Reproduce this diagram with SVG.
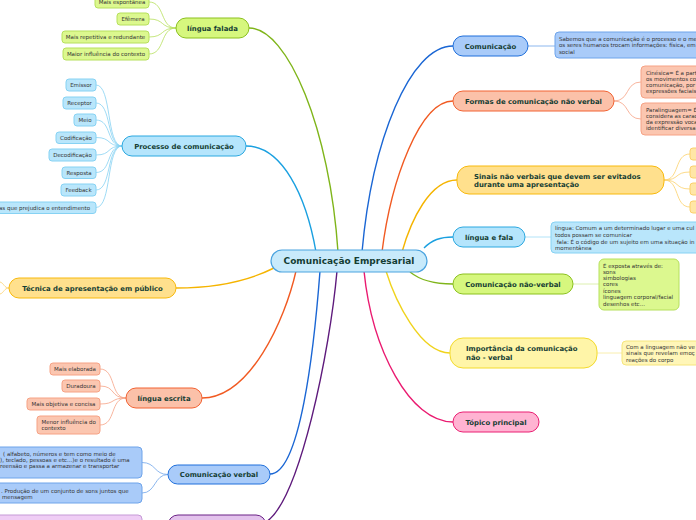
<svg xmlns="http://www.w3.org/2000/svg" width="696" height="520" viewBox="0 0 696 520">
<style>
text{font-family:"DejaVu Sans",Verdana,sans-serif}
.lbl{font-size:6.9px;font-weight:bold;fill:#143d33}
.main{font-size:9px;font-weight:bold;fill:#143d33}
.lf{font-size:5.5px;fill:#333}
.c{text-anchor:middle}
.br{fill:none;stroke-width:1.4}
.lc{fill:none;stroke-width:0.8}
.green{fill:#d6f77e;stroke:#8cc11f}
.greenL{fill:#dcf88f;stroke:#b6e05c}
.cyan{fill:#b5e5fc;stroke:#2aa8e0}
.cyanL{fill:#b9e6fb;stroke:#86d2f3}
.orng{fill:#ffe08d;stroke:#f8b90c}
.orngL{fill:#ffe6a6;stroke:#fbd06a}
.salm{fill:#fbc1a9;stroke:#f26232}
.salmL{fill:#fbc6b0;stroke:#f6a285}
.blue{fill:#a9cbf9;stroke:#1f6fdb}
.blueL{fill:#a9cbf9;stroke:#6fa4ea}
.yel{fill:#fff5a8;stroke:#f3da2c}
.yelL{fill:#fff6b8;stroke:#f6e57c}
.pink{fill:#ffb3d2;stroke:#ea1e72}
.purp{fill:#e3c2ec;stroke:#6b2386}
.purpL{fill:#efcdf5;stroke:#c59ad6}
</style>
<rect width="696" height="520" fill="#fff"/>
<g id="connectors">
<path class="br" stroke="#7fb51a" d="M249 28 C288 28 330 130 338 252"/>
<path class="br" stroke="#1aa0e0" d="M246 146 C282 146 306 195 316 252"/>
<path class="br" stroke="#1a66d4" d="M453 46 C410 46 372 140 362 252"/>
<path class="br" stroke="#f15a22" d="M453 101 C420 101 391 180 382 252"/>
<path class="br" stroke="#f5b400" d="M457 180 C430 180 411 220 402 252"/>
<path class="br" stroke="#1aa0e0" d="M424 248 C432 240 440 237 453 237"/>
<path class="br" stroke="#7fb51a" d="M410 272 C420 280 432 284 453 284"/>
<path class="br" stroke="#f5b400" d="M176 288 C220 288 250 280 274 268"/>
<path class="br" stroke="#f15a22" d="M202 398 C250 398 285 320 296 271"/>
<path class="br" stroke="#1a66d4" d="M270 474 C300 474 314 350 320 271"/>
<path class="br" stroke="#5e1a7c" d="M266 522 C300 500 330 350 337 271"/>
<path class="br" stroke="#ea1a70" d="M453 422 C410 422 372 350 364 271"/>
<path class="br" stroke="#f0d31c" d="M450 353 C420 353 395 300 386 271"/>
<g stroke="#b6e05c" class="lc">
<path d="M176 28 C160 28 165 2 149 2"/>
<path d="M176 28 C160 28 165 19 149 19"/>
<path d="M176 28 C160 28 165 37 149 37"/>
<path d="M176 28 C160 28 165 54 149 54"/>
</g>
<g stroke="#86d2f3" class="lc">
<path d="M122 146 C106 146 112 85 96 85"/>
<path d="M122 146 C106 146 112 103 96 103"/>
<path d="M122 146 C106 146 112 120 96 120"/>
<path d="M122 146 C106 146 112 137.5 96 137.5"/>
<path d="M122 146 C106 146 112 155 96 155"/>
<path d="M122 146 C106 146 112 172.5 96 172.5"/>
<path d="M122 146 C106 146 112 190 96 190"/>
<path d="M122 146 C106 146 112 207.5 96 207.5"/>
</g>
<g stroke="#fbd06a" class="lc">
<path d="M9 288 C4 288 4 283 0 282"/>
<path d="M9 288 C4 288 4 293 0 294"/>
<path d="M664 180 C680 180 674 154 690 154"/>
<path d="M664 180 C680 180 674 172 690 172"/>
<path d="M664 180 C680 180 674 189 690 189"/>
<path d="M664 180 C680 180 674 207 690 207"/>
</g>
<g stroke="#f6a285" class="lc">
<path d="M126 398 C110 398 116 369 100 369"/>
<path d="M126 398 C110 398 116 386 100 386"/>
<path d="M126 398 C110 398 116 404 100 404"/>
<path d="M126 398 C110 398 116 425 100 425"/>
<path d="M614 101 C630 101 625 82 641 82"/>
<path d="M614 101 C630 101 625 119 641 119"/>
</g>
<g stroke="#6fa4ea" class="lc">
<path d="M168 474.5 C154 474.5 156 462.5 142 462.5"/>
<path d="M168 474.5 C154 474.5 156 493 142 493"/>
<path d="M528 46 L555 46"/>
</g>
<path class="lc" stroke="#9fdcf6" stroke-width="1.5" d="M525 237 L551 237"/>
<path class="lc" stroke="#d4ec9c" stroke-width="1.5" d="M573 284 L599 284"/>
<path class="lc" stroke="#f7ea9a" stroke-width="1.5" d="M597 353 L622 353"/>
</g>

<g id="central">
<rect x="271" y="250" width="156" height="22" rx="11" fill="#c8eafb" stroke="#4aa3df" stroke-width="1.2"/>
<text class="main c" x="349" y="264.3">Comunicação Empresarial</text>
</g>

<g id="lingua-falada">
<rect class="green" x="176" y="18" width="73" height="20" rx="10"/>
<text class="lbl c" x="212.5" y="30.5">língua falada</text>
</g>
<g id="lf-1"><rect class="greenL" x="95" y="-4" width="54" height="12" rx="3"/><text class="lf c" x="122" y="4">Mais espontânea</text></g>
<g id="lf-2"><rect class="greenL" x="117" y="13" width="32" height="12" rx="3"/><text class="lf c" x="133" y="21">Efêmera</text></g>
<g id="lf-3"><rect class="greenL" x="62" y="31" width="87" height="12" rx="3"/><text class="lf c" x="105.5" y="39">Mais repetitiva e redundante</text></g>
<g id="lf-4"><rect class="greenL" x="63" y="48" width="86" height="12" rx="3"/><text class="lf c" x="106" y="56">Maior influência do contexto</text></g>

<g id="processo">
<rect class="cyan" x="122" y="136" width="124" height="20" rx="10"/>
<text class="lbl c" x="184" y="148.5">Processo de comunicação</text>
</g>
<g id="pc-1"><rect class="cyanL" x="66" y="79" width="30" height="12" rx="3"/><text class="lf c" x="81" y="87">Emissor</text></g>
<g id="pc-2"><rect class="cyanL" x="63" y="97" width="33" height="12" rx="3"/><text class="lf c" x="79.5" y="105">Receptor</text></g>
<g id="pc-3"><rect class="cyanL" x="74" y="114" width="22" height="12" rx="3"/><text class="lf c" x="85" y="122">Meio</text></g>
<g id="pc-4"><rect class="cyanL" x="56" y="132" width="40" height="11.5" rx="3"/><text class="lf c" x="76" y="139.7">Codificação</text></g>
<g id="pc-5"><rect class="cyanL" x="49" y="149" width="47" height="12" rx="3"/><text class="lf c" x="72.5" y="157">Decodificação</text></g>
<g id="pc-6"><rect class="cyanL" x="62" y="167" width="34" height="11.5" rx="3"/><text class="lf c" x="79" y="174.7">Resposta</text></g>
<g id="pc-7"><rect class="cyanL" x="61" y="184" width="35" height="12" rx="3"/><text class="lf c" x="78.5" y="192">Feedback</text></g>
<g id="pc-8"><rect class="cyanL" x="-6" y="202" width="102" height="11.5" rx="3"/><text class="lf" x="-1" y="209.7">as que prejudica o entendimento</text></g>

<g id="tecnica">
<rect class="orng" x="9" y="278" width="167" height="20" rx="10"/>
<text class="lbl c" x="92.5" y="290.5">Técnica de apresentação em público</text>
</g>

<g id="lingua-escrita">
<rect class="salm" x="126" y="388" width="76" height="20" rx="10"/>
<text class="lbl c" x="164" y="400.5">língua escrita</text>
</g>
<g id="le-1"><rect class="salmL" x="50" y="363" width="50" height="12" rx="3"/><text class="lf c" x="75" y="371">Mais elaborada</text></g>
<g id="le-2"><rect class="salmL" x="62" y="380" width="38" height="12" rx="3"/><text class="lf c" x="81" y="388">Duradoura</text></g>
<g id="le-3"><rect class="salmL" x="27" y="398" width="73" height="12" rx="3"/><text class="lf c" x="63.5" y="406">Mais objetiva e concisa</text></g>
<g id="le-4"><rect class="salmL" x="37" y="416" width="63" height="18" rx="3"/><text class="lf" x="41.5" y="424">Menor influência do</text><text class="lf" x="41.5" y="430">contexto</text></g>

<g id="com-verbal">
<rect class="blue" x="168" y="465" width="102" height="19" rx="9.5"/>
<text class="lbl c" x="219" y="477">Comunicação verbal</text>
</g>
<g id="cv-1"><rect class="blueL" x="-6" y="447" width="148" height="31" rx="4"/>
<text class="lf" x="3" y="456">( alfabeto, números e tem como meio de</text>
<text class="lf" x="0" y="462">), teclado, pessoas e etc...)e o resultado é uma</text>
<text class="lf" x="0" y="468">reensão e passa a armazenar e transportar</text></g>
<g id="cv-2"><rect class="blueL" x="-6" y="483" width="148" height="20" rx="4"/>
<text class="lf" x="1" y="492.7">. Produção de um conjunto de sons juntos que</text>
<text class="lf" x="2" y="498.7">mensagem</text></g>

<g id="purple-node"><rect class="purp" x="168" y="515" width="98" height="22" rx="10"/></g>
<g id="purple-leaf"><rect class="purpL" x="-6" y="515" width="148" height="22" rx="4"/></g>

<g id="comunicacao">
<rect class="blue" x="453" y="36" width="75" height="20" rx="10"/>
<text class="lbl c" x="490.5" y="48.5">Comunicação</text>
</g>
<g id="cm-1"><rect class="blueL" x="555" y="32" width="150" height="26" rx="4"/>
<text class="lf" x="559" y="41">Sabemos que a comunicação é o processo e o me</text>
<text class="lf" x="559" y="47.3">os seres humanos trocam informações: física, em</text>
<text class="lf" x="559" y="53.6">social</text></g>

<g id="formas">
<rect class="salm" x="453" y="91" width="161" height="20" rx="10"/>
<text class="lbl c" x="533.5" y="103.5">Formas de comunicação não verbal</text>
</g>
<g id="fm-1"><rect class="salmL" x="641" y="66" width="64" height="32" rx="4"/>
<text class="lf" x="646" y="75">Cinésica= É a part</text>
<text class="lf" x="646" y="81">os movimentos co</text>
<text class="lf" x="646" y="87">comunicação, por</text>
<text class="lf" x="646" y="93">expressões faciais</text></g>
<g id="fm-2"><rect class="salmL" x="641" y="103" width="64" height="32" rx="4"/>
<text class="lf" x="646" y="112">Paralinguagem= É</text>
<text class="lf" x="646" y="118">considera as carac</text>
<text class="lf" x="646" y="124">da expressão voca</text>
<text class="lf" x="646" y="130">identificar diversa</text></g>

<g id="sinais">
<rect class="orng" x="457" y="166" width="207" height="28" rx="12"/>
<text class="lbl" x="474" y="178.5">Sinais não verbais que devem ser evitados</text>
<text class="lbl" x="474" y="187">durante uma apresentação</text>
</g>
<g id="sn-1"><rect class="orngL" x="690" y="148" width="20" height="12" rx="3"/></g>
<g id="sn-2"><rect class="orngL" x="690" y="166" width="20" height="12" rx="3"/></g>
<g id="sn-3"><rect class="orngL" x="690" y="183" width="20" height="12" rx="3"/></g>
<g id="sn-4"><rect class="orngL" x="690" y="201" width="20" height="12" rx="3"/></g>

<g id="lingua-fala">
<rect class="cyan" x="453" y="227" width="72" height="20" rx="10"/>
<text class="lbl c" x="489" y="239.5">língua e fala</text>
</g>
<g id="lfa-1"><rect class="cyanL" x="551" y="222" width="154" height="31" rx="4"/>
<text class="lf" x="555" y="230.3">língua: Comum a um determinado lugar e uma cul</text>
<text class="lf" x="555" y="237">todos possam se comunicar</text>
<text class="lf" x="556.7" y="243.7">fala: É o código de um sujeito em uma situação in</text>
<text class="lf" x="555" y="250.3">momentânea</text></g>

<g id="com-nao-verbal">
<rect class="green" x="453" y="274" width="120" height="20" rx="10"/>
<text class="lbl c" x="513" y="286.5">Comunicação não-verbal</text>
</g>
<g id="cnv-1"><rect class="greenL" x="599" y="259" width="80" height="51" rx="5"/>
<text class="lf" x="603" y="268">É exposta através de:</text>
<text class="lf" x="603" y="274.3">sons</text>
<text class="lf" x="603" y="280.3">simbologias</text>
<text class="lf" x="603" y="286.3">cores</text>
<text class="lf" x="603" y="292.7">ícones</text>
<text class="lf" x="603" y="299.3">linguagem corporal/facial</text>
<text class="lf" x="603" y="305.7">desenhos etc...</text></g>

<g id="importancia">
<rect class="yel" x="450" y="338" width="147" height="30" rx="13"/>
<text class="lbl" x="466" y="351">Importância da comunicação</text>
<text class="lbl" x="466" y="360.3">não - verbal</text>
</g>
<g id="imp-1"><rect class="yelL" x="622" y="341" width="84" height="24" rx="4"/>
<text class="lf" x="626" y="348.7">Com a linguagem não ve</text>
<text class="lf" x="626" y="355.3">sinais que revelam emoç</text>
<text class="lf" x="626" y="362">reações do corpo</text></g>

<g id="topico">
<rect class="pink" x="453" y="412" width="86" height="20" rx="10"/>
<text class="lbl c" x="496" y="424.5">Tópico principal</text>
</g>
</svg>
